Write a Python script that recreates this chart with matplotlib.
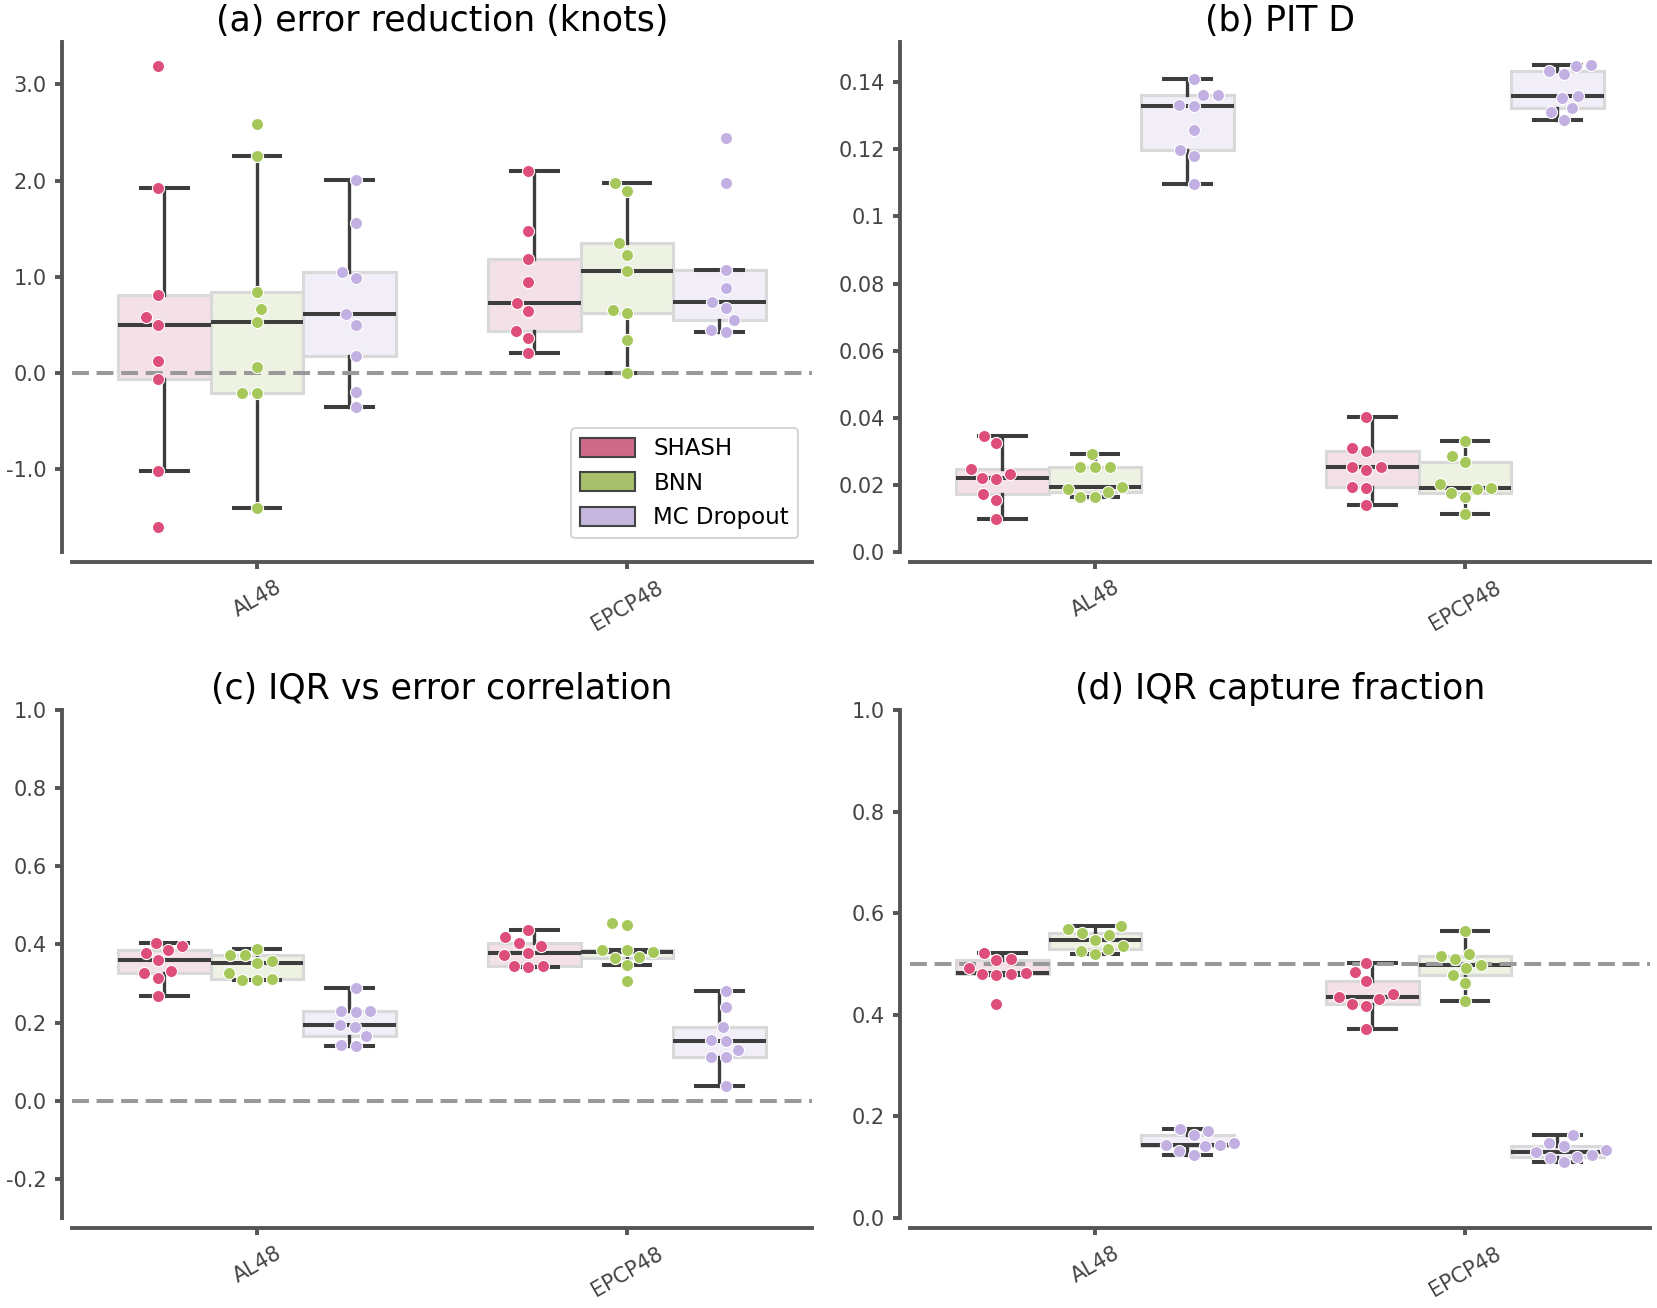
import numpy as np
import matplotlib
matplotlib.use('Agg')
import matplotlib.pyplot as plt
from matplotlib.patches import Patch

plt.rcParams['font.family'] = ['DejaVu Sans']

categories = ['AL48', 'EPCP48']
models = ['SHASH', 'BNN', 'MC Dropout']

# (a) error reduction (knots): [AL48 values, EPCP48 values]
err_shash = [[3.19, 1.92, 0.81, 0.58, 0.50, 0.12, -0.06, -1.02, -1.60],
             [2.10, 1.48, 1.19, 0.95, 0.73, 0.64, 0.44, 0.36, 0.21]]
err_bnn = [[2.59, 2.26, 0.84, 0.67, 0.53, 0.06, -0.21, -0.21, -1.40],
           [1.97, 1.89, 1.35, 1.23, 1.06, 0.65, 0.62, 0.34, 0.00]]
err_mc = [[2.01, 1.56, 1.05, 0.99, 0.61, 0.50, 0.18, -0.20, -0.35],
          [2.44, 1.97, 1.07, 0.88, 0.74, 0.68, 0.55, 0.45, 0.43]]

# (b) PIT D
pit_shash = [[0.0346, 0.0325, 0.0248, 0.0233, 0.0220, 0.0218, 0.0173, 0.0156, 0.0098],
             [0.0403, 0.0310, 0.0301, 0.0253, 0.0253, 0.0243, 0.0193, 0.0190, 0.0140]]
pit_bnn = [[0.0293, 0.0254, 0.0253, 0.0252, 0.0193, 0.0188, 0.0180, 0.0165, 0.0163],
           [0.0330, 0.0286, 0.0268, 0.0203, 0.0190, 0.0188, 0.0175, 0.0163, 0.0113]]
pit_mc = [[0.1409, 0.1362, 0.1361, 0.1332, 0.1329, 0.1257, 0.1197, 0.1180, 0.1097],
          [0.1450, 0.1447, 0.1435, 0.1424, 0.1359, 0.1354, 0.1322, 0.1310, 0.1287]]

# (c) IQR vs error correlation
corr_shash = [[0.405, 0.396, 0.385, 0.379, 0.359, 0.332, 0.327, 0.315, 0.267],
              [0.437, 0.419, 0.405, 0.396, 0.378, 0.372, 0.346, 0.344, 0.342]]
corr_bnn = [[0.389, 0.374, 0.372, 0.357, 0.353, 0.327, 0.311, 0.310, 0.310],
            [0.454, 0.449, 0.387, 0.385, 0.381, 0.368, 0.366, 0.347, 0.306]]
corr_mc = [[0.289, 0.230, 0.229, 0.227, 0.193, 0.190, 0.167, 0.143, 0.141],
           [0.280, 0.239, 0.188, 0.156, 0.153, 0.130, 0.113, 0.111, 0.039]]

# (d) IQR capture fraction
cap_shash = [[0.521, 0.510, 0.507, 0.493, 0.482, 0.481, 0.480, 0.478, 0.422],
             [0.502, 0.485, 0.467, 0.440, 0.436, 0.431, 0.422, 0.418, 0.372]]
cap_bnn = [[0.574, 0.568, 0.561, 0.558, 0.548, 0.535, 0.530, 0.526, 0.519],
           [0.564, 0.520, 0.515, 0.510, 0.498, 0.492, 0.479, 0.462, 0.427]]
cap_mc = [[0.175, 0.172, 0.163, 0.147, 0.144, 0.143, 0.142, 0.132, 0.125],
          [0.164, 0.147, 0.142, 0.133, 0.129, 0.125, 0.121, 0.119, 0.111]]

point_colors = ['#dd4e7a', '#a6c85a', '#c1b0e1']
legend_colors = ['#cf6a88', '#a8c06c', '#c6b7de']
box_fills = ['#f4e1e7', '#edf2e3', '#f1eef7']
dark = '#3d3d3d'
spine_col = '#555555'


def swarm_x(ax, xc, vals, r=7.0):
    # simple beeswarm in pixel space, lowest point first
    pts = ax.transData.transform(np.column_stack([np.full(len(vals), xc), vals]))
    order = np.argsort(pts[:, 1], kind='stable')
    placed = []
    out = np.empty(len(vals))
    for idx in order:
        x0, y0 = pts[idx]
        cands = [x0]
        left_first = True
        for px, py in placed:
            dy = y0 - py
            if abs(dy) < 2 * r:
                dx = np.sqrt((2 * r) ** 2 - dy ** 2) * 1.05
                cands += [px - dx, px + dx] if left_first else [px + dx, px - dx]
                left_first = not left_first
        cands.sort(key=lambda c: abs(c - x0))
        for c in cands:
            if all((c - px) ** 2 + (y0 - py) ** 2 >= (2 * r) ** 2 * 0.999 for px, py in placed):
                break
        placed.append((c, y0))
        out[idx] = c
    back = ax.transData.inverted().transform(np.column_stack([out, pts[:, 1]]))
    return back[:, 0]


def panel(ax, series, title, ylim, yticks, yticklabels, refline=None):
    # spines first: moving a spine resets the tick labels
    for s in ['top', 'right']:
        ax.spines[s].set_visible(False)
    for s in ['left', 'bottom']:
        ax.spines[s].set_position(('outward', 7.2))
        ax.spines[s].set_linewidth(2.8)
        ax.spines[s].set_color(spine_col)

    ax.set_xlim(-0.5, 1.5)
    ax.set_ylim(*ylim)
    if refline is not None:
        ax.axhline(refline, color='#999999', lw=2.9, ls=(0, (4.2, 1.9)), zorder=2.5)
    for m, vals in enumerate(series):
        for c in range(len(categories)):
            pos = c + (m - 1) * 0.25
            ax.boxplot([vals[c]], positions=[pos], widths=0.25, patch_artist=True,
                       showfliers=False, whis=1.5, zorder=2, manage_ticks=False,
                       boxprops=dict(facecolor=box_fills[m], edgecolor='#d9d9d9', linewidth=2.2),
                       medianprops=dict(color=dark, linewidth=2.9),
                       whiskerprops=dict(color=dark, linewidth=2.4),
                       capprops=dict(color=dark, linewidth=2.9))
    for m, vals in enumerate(series):
        for c in range(len(categories)):
            xc = c + (m - 1) * 0.8 / 3
            xs = swarm_x(ax, xc, vals[c])
            ax.scatter(xs, vals[c], s=76, color=point_colors[m], edgecolor='white',
                       linewidth=0.8, zorder=4)

    ax.set_title(title, fontsize=25, pad=8)
    ax.set_xticks(range(len(categories)))
    ax.set_xticklabels(categories)
    ax.set_yticks(yticks)
    ax.set_yticklabels(yticklabels)
    ax.tick_params(axis='both', length=5, width=2.8, color=spine_col, pad=6,
                   labelcolor='#444444')
    ax.tick_params(axis='y', labelsize=15)
    ax.tick_params(axis='x', labelsize=15, labelrotation=30)
    for lab in ax.get_xticklabels():
        lab.set_ha('center')


fig = plt.figure(figsize=(16.58, 13.08), dpi=100)
W, H = 1658, 1308
ax_a = fig.add_axes([72 / W, 1 - 552 / H, 740 / W, 510 / H])
ax_b = fig.add_axes([910 / W, 1 - 552 / H, 740 / W, 510 / H])
ax_c = fig.add_axes([72 / W, 1 - 1218 / H, 740 / W, 508 / H])
ax_d = fig.add_axes([910 / W, 1 - 1218 / H, 740 / W, 508 / H])

panel(ax_a, [err_shash, err_bnn, err_mc], '(a) error reduction (knots)',
      (-1.86, 3.44), [-1, 0, 1, 2, 3], ['-1.0', '0.0', '1.0', '2.0', '3.0'], refline=0.0)
panel(ax_b, [pit_shash, pit_bnn, pit_mc], '(b) PIT D',
      (0.0, 0.152), [0, 0.02, 0.04, 0.06, 0.08, 0.1, 0.12, 0.14],
      ['0.0', '0.02', '0.04', '0.06', '0.08', '0.1', '0.12', '0.14'])
panel(ax_c, [corr_shash, corr_bnn, corr_mc], '(c) IQR vs error correlation',
      (-0.3, 1.0), [-0.2, 0, 0.2, 0.4, 0.6, 0.8, 1.0],
      ['-0.2', '0.0', '0.2', '0.4', '0.6', '0.8', '1.0'], refline=0.0)
panel(ax_d, [cap_shash, cap_bnn, cap_mc], '(d) IQR capture fraction',
      (0.0, 1.0), [0, 0.2, 0.4, 0.6, 0.8, 1.0],
      ['0.0', '0.2', '0.4', '0.6', '0.8', '1.0'], refline=0.5)

handles = [Patch(facecolor=legend_colors[i], edgecolor='#444444', linewidth=1.5, label=models[i])
           for i in range(len(models))]
leg = ax_a.legend(handles=handles, loc='lower right', fontsize=16.5, handlelength=2.4,
                  handleheight=0.9, handletextpad=0.8, labelspacing=0.5,
                  borderaxespad=0.6, frameon=True, fancybox=True)
leg.get_frame().set_edgecolor('#cccccc')
leg.get_frame().set_linewidth(1.5)

fig.savefig('out.png', dpi=100)
